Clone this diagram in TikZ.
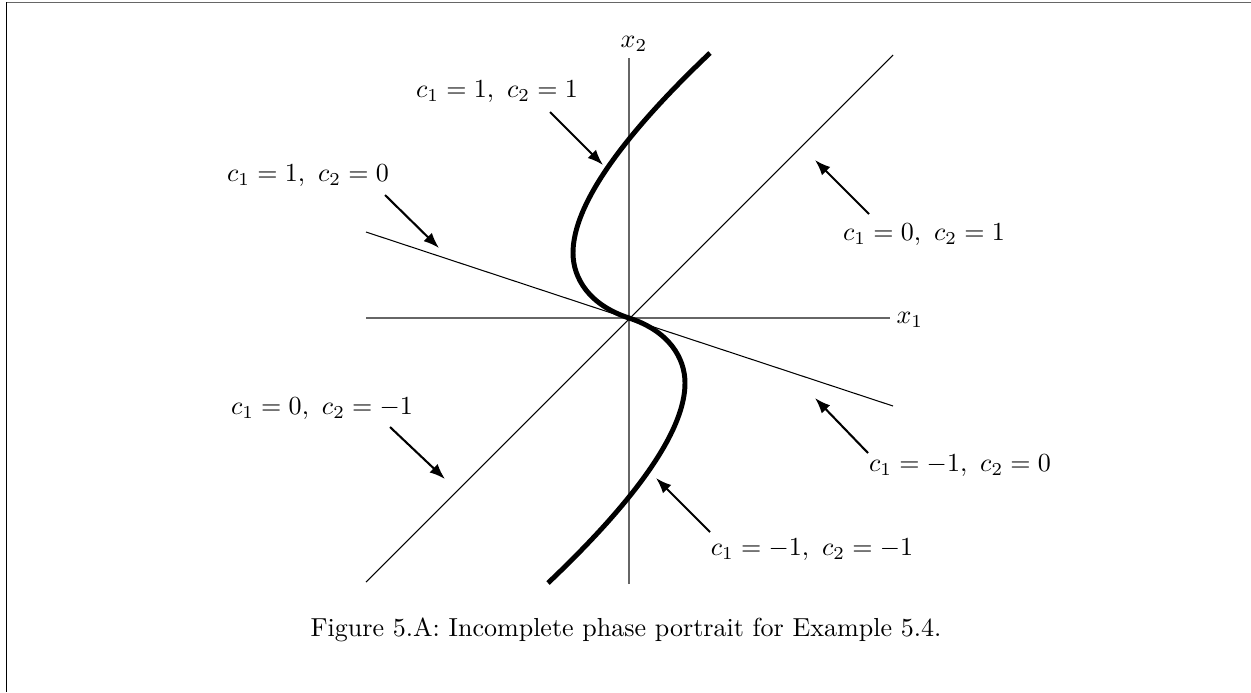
\documentclass[tikz,border=0pt]{standalone}
\usetikzlibrary{arrows.meta}
\begin{document}
\begin{tikzpicture}[x=0.384pt,y=-0.384pt,
  axis/.style={draw=black!60,line width=0.45pt},
  eigline/.style={draw=black,line width=0.4pt},
  traj/.style={draw=black,line width=1.9pt,line join=round},
  pointer/.style={draw=black,line width=0.8pt,-{Latex[length=6pt,width=4.5pt]}},
  lab/.style={inner sep=0pt,font=\normalsize}]
\useasboundingbox (0,0) rectangle (1251,692);
% frame fragments
\draw[black!60,line width=0.6pt] (6,2.5) -- (1251,2.5);
\draw[black,line width=0.6pt] (6.5,2) -- (6.5,692);
% axes
\coordinate (O) at (629,318);
\coordinate (xl) at (366,318);
\coordinate (xr) at (890,318);
\coordinate (yb) at (629,584);
\coordinate (yt) at (629,58);
\draw[axis] (xl) -- (xr);
\draw[axis] (yb) -- (yt);
\node[lab,anchor=west] (x1) at (896,320) {$x_1$};
\node[lab] (x2) at (634,44) {$x_2$};
% eigen-lines
\coordinate (da) at (366,582);
\coordinate (db) at (893,55);
\coordinate (ea) at (366,232);
\coordinate (eb) at (893,406);
\draw[eigline] (da) -- (db);
\draw[eigline] (ea) -- (eb);
% trajectory
\coordinate (Tb) at (548,583);
\coordinate (Lb) at (685,383);
\coordinate (Lt) at (573,253);
\coordinate (Tt) at (710,53);
\draw[traj] (Tb) .. controls (608,526) and (685,443) .. (Lb)
  .. controls (685,358) and (669,331) .. (O)
  .. controls (589,305) and (573,278) .. (Lt)
  .. controls (573,193) and (650,110) .. (Tt);
% labels
\node[lab] (l11) at (497,92) {$c_1=1,\ c_2=1$};
\node[lab] (l10) at (308,176) {$c_1=1,\ c_2=0$};
\node[lab] (l01) at (924,235) {$c_1=0,\ c_2=1$};
\node[lab] (l0m) at (322,409) {$c_1=0,\ c_2=-1$};
\node[lab] (lm0) at (960,466) {$c_1=-1,\ c_2=0$};
\node[lab] (lmm) at (812,550) {$c_1=-1,\ c_2=-1$};
% arrow ends
\coordinate (s11) at (550,112); \coordinate (t11) at (603,165);
\coordinate (s10) at (385,195); \coordinate (t10) at (439,248);
\coordinate (s01) at (869,214); \coordinate (t01) at (815,160);
\coordinate (s0m) at (390,427); \coordinate (t0m) at (445,479);
\coordinate (sm0) at (868,453); \coordinate (tm0) at (815,398);
\coordinate (smm) at (710,532); \coordinate (tmm) at (656,478);
\draw[pointer] (s11) -- (t11);
\draw[pointer] (s10) -- (t10);
\draw[pointer] (s01) -- (t01);
\draw[pointer] (s0m) -- (t0m);
\draw[pointer] (sm0) -- (tm0);
\draw[pointer] (smm) -- (tmm);
% caption
\node[lab] (cap) at (626,630) {Figure 5.A: Incomplete phase portrait for Example 5.4.};
\end{tikzpicture}
\end{document}
